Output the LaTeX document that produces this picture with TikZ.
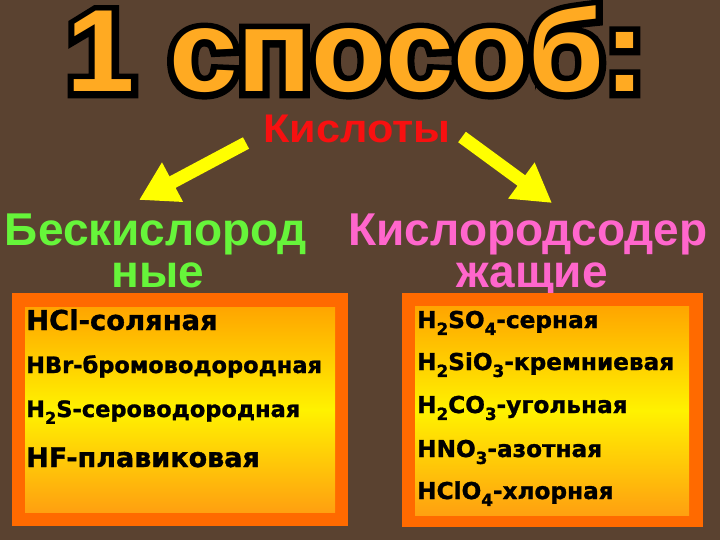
\documentclass[tikz,border=0pt]{standalone}
\usepackage{fontspec}
\setmainfont{Liberation Sans}
\newfontfamily\djvb[FakeBold=1.2]{DejaVu Sans Bold}
\newfontfamily\titleol[FakeBold=11]{Liberation Sans Bold}
\usetikzlibrary{arrows.meta,calc}
\definecolor{bgbrown}{HTML}{5A4230}
\definecolor{titlefill}{HTML}{FFAA22}
\definecolor{boxedge}{HTML}{FF6A00}
\definecolor{boxtop}{HTML}{FFA500}
\definecolor{boxmid}{HTML}{FFF200}
\definecolor{boxbot}{HTML}{FFA010}
\definecolor{arrowyel}{HTML}{FFFF00}
\definecolor{hdgreen}{HTML}{66F53A}
\definecolor{hdpink}{HTML}{FF66CC}
\definecolor{kisred}{HTML}{F81010}
\newcommand\sbs[1]{\raisebox{-0.3em}{\scalebox{0.72}{#1}}}
\tikzset{
  titletext/.style={inner sep=0pt, anchor=base, xscale=1.05, font=\fontsize{117}{117}\selectfont\bfseries},
  titleoutline/.style={inner sep=0pt, anchor=base, xscale=1.05, font=\fontsize{117}{117}\selectfont\titleol},
  hdtext/.style={inner sep=0pt, anchor=base, font=\fontsize{46}{46}\selectfont\bfseries},
  itemL/.style={inner sep=0pt, anchor=base west},
  bigarrow/.style={arrowyel, line width=13pt, -{Triangle[length=38pt,width=42pt]}},
  outerbox/.style={fill=boxedge},
  innerbox/.style={top color=boxtop, bottom color=boxbot, middle color=boxmid}
}
\begin{document}
\begin{tikzpicture}[x=1pt,y=-1pt]
\fill[bgbrown] (0,0) rectangle (720,540);
\useasboundingbox (0,0) rectangle (720,540);
% title
\node[titleoutline, black] (titleol) at (356,92) {1 способ:};
\node[titletext, titlefill] (title) at (356,92) {1 способ:};
% Кислоты
\node[inner sep=0pt, anchor=base, kisred, font=\fontsize{40}{40}\selectfont\bfseries, xscale=1.08] (kisl) at (357,143) {Кислоты};
% headings
\node[hdtext, hdgreen] (hdL1) at (156,245) {Бескислород};
\node[hdtext, hdgreen] (hdL2) at (158,287) {ные};
\node[hdtext, hdpink] (hdR1) at (528,245) {Кислородсодер};
\node[hdtext, hdpink] (hdR2) at (532,287) {жащие};
% arrows
\coordinate (aLt) at (246,143);
\coordinate (aLh) at (139,200);
\coordinate (aRt) at (462,137);
\coordinate (aRh) at (552,203);
\draw[bigarrow] (aLt) -- (aLh);
\draw[bigarrow] (aRt) -- (aRh);
% boxes
\fill[outerbox] (12,293) rectangle (348,526);
\shade[innerbox] (25,307) rectangle (335,512);
\fill[outerbox] (402,293) rectangle (703,527);
\shade[innerbox] (415,306) rectangle (689,515);
% left items
\node[itemL, font=\djvb\fontsize{27.4}{27.4}\selectfont] (l1) at (26,330) {HCl-соляная};
\node[itemL, font=\djvb\fontsize{22.5}{22.5}\selectfont] (l2) at (26,373) {HBr-бромоводородная};
\node[itemL, font=\djvb\fontsize{22.5}{22.5}\selectfont] (l3) at (26,417) {H\sbs{2}S-сероводородная};
\node[itemL, font=\djvb\fontsize{27}{27}\selectfont] (l4) at (26,467) {HF-плавиковая};
% right items
\node[itemL, font=\djvb\fontsize{23.2}{23.2}\selectfont] (r1) at (417,328) {H\sbs{2}SO\sbs{4}-серная};
\node[itemL, font=\djvb\fontsize{23.2}{23.2}\selectfont] (r2) at (417,370) {H\sbs{2}SiO\sbs{3}-кремниевая};
\node[itemL, font=\djvb\fontsize{23.2}{23.2}\selectfont] (r3) at (417,413) {H\sbs{2}CO\sbs{3}-угольная};
\node[itemL, font=\djvb\fontsize{23.2}{23.2}\selectfont] (r4) at (417,457) {HNO\sbs{3}-азотная};
\node[itemL, font=\djvb\fontsize{23.2}{23.2}\selectfont] (r5) at (417,499) {HClO\sbs{4}-хлорная};
\end{tikzpicture}
\end{document}
